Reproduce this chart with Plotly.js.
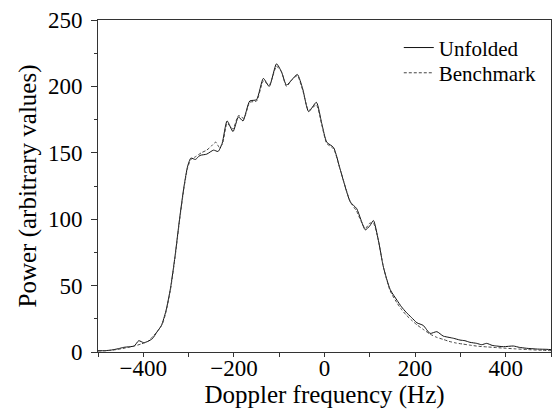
<!DOCTYPE html>
<html>
<head>
<meta charset="utf-8">
<script src="https://cdn.plot.ly/plotly-3.0.1.min.js"></script>
<style>html,body{margin:0;padding:0;background:#fff;}#chart{width:552px;height:411px;}</style>
</head>
<body>
<div id="chart"></div>
<script>
// Doppler frequency (Hz) and power (arbitrary values)
var unfoldedFreq = [-500,-485,-470,-455,-443,-430,-420,-410,-399,-390,-380,-370,-360,-350,-340,-330,-320,-310,-302,-295,-285,-275,-260,-245,-235,-226,-215,-202,-190,-180,-165,-150,-135,-122,-106,-95,-84,-72,-60,-48,-35,-18,-6,5,20,35,57,71,80,90,100,108,119,130,145,160,170,180,192,204,218,233,248,262,275,285,299,310,321,336,347,358,370,380,395,417,430,446,470,491,500];
var unfoldedPower = [1,1,1.5,2.5,3.5,4,4.5,8.5,7,8,10,15,20,31,48,72,100,125,140,146,145,148,149,152,151,157,174,166,177,174,189,190,206,200,217,211,201,205,209,198,181,188,172,158,154,137,113,108,100,92,95,99,84,64,47,39,34,30,26,22,20,14,15.3,12,11,10.3,9,8.5,7.3,6.5,5.5,6.5,5,4.5,4,4.5,3.5,2.8,2.2,2,1.8];

var benchFreq = [-500,-480,-460,-440,-420,-405,-390,-378,-368,-358,-350,-340,-330,-320,-310,-302,-295,-285,-272,-260,-250,-240,-232,-225,-215,-202,-190,-178,-165,-150,-135,-122,-106,-95,-84,-72,-60,-48,-35,-18,-6,5,20,35,57,71,80,90,100,108,119,130,145,160,170,180,192,204,218,233,248,262,275,290,305,320,340,360,380,400,420,450,480,500];
var benchPower = [0.8,1,1.8,3,4.5,6,8,12,16,21,30,47,71,99,124,139,145,147,150,152,155,158,154,157,172,168,178,176,188,189,204,201,215,211,200,205,208,197,182,186,171,157,153,137,113,106,99,93,97,97,84,64,46,37,32,28,24,20.5,17,13.5,11,9.5,8,6.8,6,5.2,4.3,3.8,3.3,2.8,2.4,1.8,1.3,1];

var seriesNames = ["Unfolded", "Benchmark"];
var xTicks = [-400,-200,0,200,400];
var yTicks = [0,50,100,150,200,250];

var FONT = "Liberation Serif, Times New Roman, serif";

var traces = [
  {x: unfoldedFreq, y: unfoldedPower, name: seriesNames[0], type: "scatter", mode: "lines", legend: "legend",
   line: {color: "#111", width: 1, shape: "spline", smoothing: 0.6}},
  {x: benchFreq, y: benchPower, name: seriesNames[1], type: "scatter", mode: "lines", legend: "legend2",
   line: {color: "#444", width: 1, dash: "3px,2px", shape: "spline", smoothing: 0.6}}
];

var legendBase = {xanchor: "left", yanchor: "middle", bgcolor: "rgba(0,0,0,0)", borderwidth: 0,
                  font: {family: FONT, size: 21, color: "#000"}};

var layout = {
  width: 552, height: 411,
  margin: {l: 98, r: 1, t: 20, b: 59},
  paper_bgcolor: "#fff", plot_bgcolor: "#fff",
  font: {family: FONT, color: "#000", size: 21},
  showlegend: true,
  legend: Object.assign({}, legendBase, {x: 0.664, y: 0.916}),
  legend2: Object.assign({}, legendBase, {x: 0.664, y: 0.84}),
  xaxis: {
    range: [-500, 500], tickvals: xTicks, ticks: "outside", ticklen: 4, tickwidth: 1, tickcolor: "#333",
    minor: {dtick: 100, tick0: 0, ticks: "outside", ticklen: 4, tickcolor: "#333", showgrid: false},
    showline: true, linecolor: "#333", linewidth: 1, mirror: true, showgrid: false, zeroline: false,
    tickfont: {family: FONT, size: 23, color: "#000"}, ticklabelstandoff: -9,
    title: {text: "Doppler frequency (Hz)", font: {family: FONT, size: 25, color: "#000"}, standoff: 0}
  },
  yaxis: {
    range: [0, 250], tickvals: yTicks, ticks: "outside", ticklen: 6, tickwidth: 1, tickcolor: "#333",
    minor: {dtick: 25, tick0: 0, ticks: "outside", ticklen: 3, tickcolor: "#333", showgrid: false},
    showline: true, linecolor: "#333", linewidth: 1, mirror: true, showgrid: false, zeroline: false,
    tickfont: {family: FONT, size: 23, color: "#000"}, ticklabelstandoff: 4,
    title: {text: "Power (arbitrary values)", font: {family: FONT, size: 25, color: "#000"}, standoff: 4}
  }
};

Plotly.newPlot("chart", traces, layout, {displayModeBar: false, staticPlot: true});
</script>
</body>
</html>
